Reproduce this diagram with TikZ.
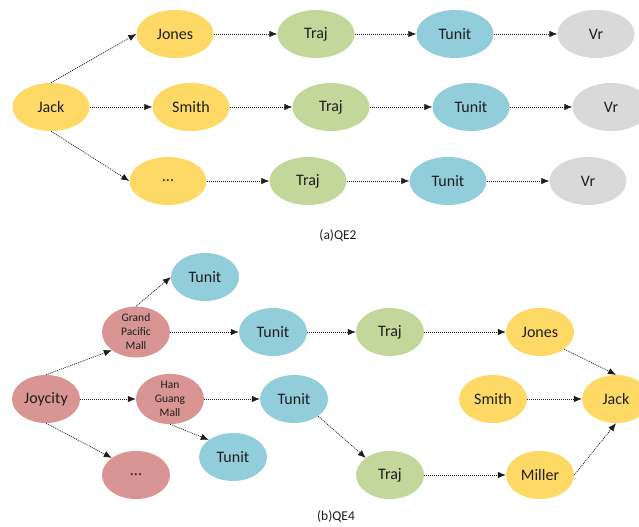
\documentclass[tikz,border=0pt]{standalone}
\usepackage{fontspec}
\setmainfont{Carlito}
\usepackage{tikz}
\usetikzlibrary{arrows.meta,positioning,shapes.geometric}
\definecolor{QYellow}{HTML}{FFD966}
\definecolor{QGreen}{HTML}{C4D79B}
\definecolor{QBlue}{HTML}{92CDDC}
\definecolor{QGray}{HTML}{D9D9D9}
\definecolor{QPink}{HTML}{D99594}
\definecolor{QInk}{HTML}{1E1E1E}

\begin{document}
\begin{tikzpicture}[x=1bp,y=-1bp,
  big/.style={ellipse,fill=#1,inner sep=0pt,minimum width=77bp,minimum height=48bp,
    text=QInk,font=\fontsize{16bp}{19bp}\selectfont},
  sm/.style={big=#1,minimum width=68bp},
  mall/.style={sm=QPink,align=center,font=\fontsize{11.5bp}{14bp}\selectfont},
  a/.style={-{Latex[length=8bp,width=6.5bp]},line width=0.75bp,dash pattern=on 1bp off 1bp,color=QInk},
  lbl/.style={text=QInk,inner sep=0pt,font=\fontsize{13.5bp}{16bp}\selectfont}
]
  \useasboundingbox (0,0) rectangle (639,527);
  % (a) QE2
  \node[big=QYellow] (jack) at (51,107) {Jack};
  \node[big=QYellow] (jones) at (175,34) {Jones};
  \node[big=QYellow] (smith) at (191,107) {Smith};
  \node[big=QYellow] (etc) at (168,181) {...};
  \node[big=QGreen] (trajA) at (316,34) {Traj};
  \node[big=QGreen] (trajB) at (331,107) {Traj};
  \node[big=QGreen] (trajC) at (308,181) {Traj};
  \node[big=QBlue] (tunitA) at (455,34) {Tunit};
  \node[big=QBlue] (tunitB) at (471,107) {Tunit};
  \node[big=QBlue] (tunitC) at (448,181) {Tunit};
  \node[big=QGray] (vrA) at (596,34) {Vr};
  \node[big=QGray] (vrB) at (611,107) {Vr};
  \node[big=QGray] (vrC) at (588,181) {Vr};
  \node[lbl] (capA) at (338,235) {(a)QE2};
  \draw[a] (jack.north) -- (jones.west);
  \draw[a] (jack) -- (smith);
  \draw[a] (jack.south) -- (etc.west);
  \draw[a] (jones) -- (trajA);
  \draw[a] (smith) -- (trajB);
  \draw[a] (etc) -- (trajC);
  \draw[a] (trajA) -- (tunitA);
  \draw[a] (trajB) -- (tunitB);
  \draw[a] (trajC) -- (tunitC);
  \draw[a] (tunitA) -- (vrA);
  \draw[a] (tunitB) -- (vrB);
  \draw[a] (tunitC) -- (vrC);
  % (b) QE4
  \node[sm=QPink] (joy) at (46,399) {Joycity};
  \node[mall] (gpm) at (136,332) {Grand\\Pacific\\Mall};
  \node[mall] (hgm) at (170,399) {Han\\Guang\\Mall};
  \node[sm=QPink] (etcB) at (136,475) {...};
  \node[sm=QBlue] (tuA) at (205,277) {Tunit};
  \node[sm=QBlue] (tuB) at (273,332) {Tunit};
  \node[sm=QBlue] (tuC) at (294,399) {Tunit};
  \node[sm=QBlue] (tuD) at (233,457) {Tunit};
  \node[sm=QGreen] (trajD) at (390,332) {Traj};
  \node[sm=QGreen] (trajE) at (390,475) {Traj};
  \node[sm=QYellow] (jonesB) at (540,332) {Jones};
  \node[sm=QYellow] (smithB) at (493,399) {Smith};
  \node[sm=QYellow] (miller) at (540,475) {Miller};
  \node[sm=QYellow] (jackB) at (616,399) {Jack};
  \node[lbl] (capB) at (336,516) {(b)QE4};
  \draw[a] (joy.north) -- (gpm.south west);
  \draw[a] (joy) -- (hgm);
  \draw[a] (joy.south) -- (etcB.north west);
  \draw[a] (gpm.north) -- (tuA.west);
  \draw[a] (gpm) -- (tuB);
  \draw[a] (hgm) -- (tuC);
  \draw[a] (hgm.south) -- (tuD.north west);
  \draw[a] (tuB) -- (trajD);
  \draw[a] (tuC.south east) -- (trajE.north west);
  \draw[a] (trajD) -- (jonesB);
  \draw[a] (trajE) -- (miller);
  \draw[a] (jonesB.south east) -- (jackB.north);
  \draw[a] (smithB) -- (jackB);
  \draw[a] (miller.east) -- (jackB.south);
\end{tikzpicture}
\end{document}
